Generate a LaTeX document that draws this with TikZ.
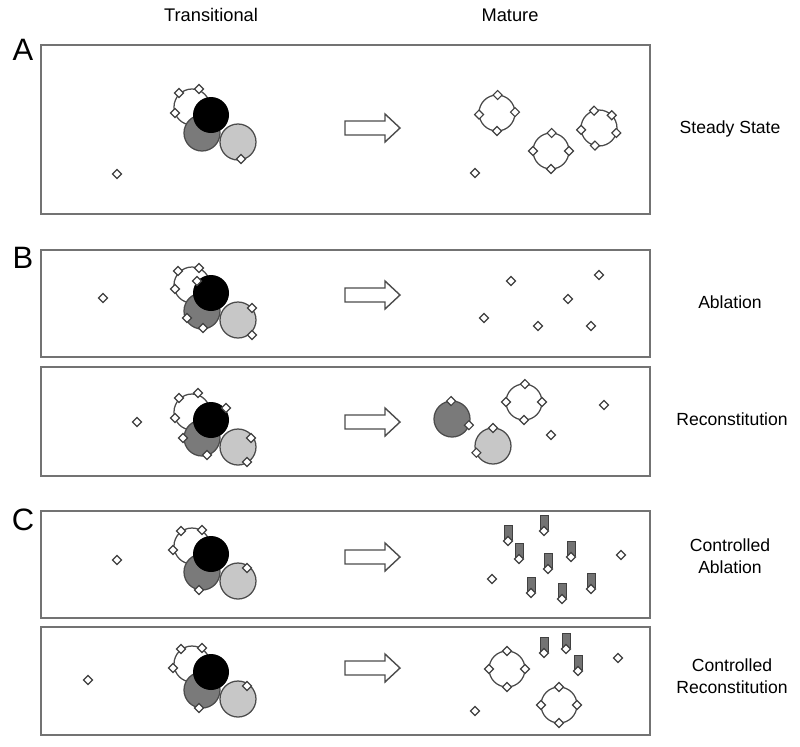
\documentclass[tikz,border=0pt]{standalone}
\usepackage{fontspec}
\setmainfont{Liberation Sans}
\usetikzlibrary{arrows.meta}

\tikzset{
  panel/.style={draw=black!55, line width=1.3pt},
  ring/.style={draw=black!70, line width=0.9pt, fill=white},
  diam/.style={draw=black!75, line width=0.8pt, fill=white},
  darkcell/.style={ring, fill=black!52},
  lightcell/.style={ring, fill=black!22},
  tagbar/.style={draw=black!75, fill=black!55, line width=0.7pt},
  flow/.style={draw=black!70, line width=1pt, fill=white},
  lbl/.style={font=\fontsize{12.5}{16}\selectfont, align=center},
  head/.style={font=\fontsize{13}{15}\selectfont},
  letter/.style={font=\fontsize{22}{24}\selectfont}
}

% small marker, ring with markers, blocked marker, big arrow
\newcommand\dia[1]{\draw[diam] #1 +(0,-4.5) -- +(4.5,0) -- +(0,4.5) -- +(-4.5,0) -- cycle;}
\newcommand\ring[2]{\draw[ring] (#1) circle (18);
  \foreach \a in {#2} {\dia{(#1) ++(\a:18)}}}
\newcommand\blocked[1]{\draw[tagbar] (#1) +(-4,-16) rectangle +(4,-2); \dia{(#1)}}
\newcommand\flow[1]{\draw[flow] (345,#1) +(0,-7) -- +(40,-7) -- +(40,-14) -- +(55,0)
  -- +(40,14) -- +(40,7) -- +(0,7) -- cycle;}
\newcommand\cluster[1]{%
  \draw[ring] (192,#1-8) circle (18);
  \draw[darkcell] (202,#1+18) circle (18);
  \fill (211,#1) circle (18);
  \draw[lightcell] (238,#1+27) circle (18);}

\begin{document}
\begin{tikzpicture}[x=0.025cm, y=0.025cm, yscale=-1]
  \useasboundingbox (0,0) rectangle (800,746);

  \node[head] (trans) at (211,15) {Transitional};
  \node[head] (mat) at (510,15) {Mature};

  % panels
  \draw[panel] (41,45) rectangle (650,214);
  \draw[panel] (41,250) rectangle (650,357);
  \draw[panel] (41,367) rectangle (650,476);
  \draw[panel] (41,511) rectangle (650,618);
  \draw[panel] (41,627) rectangle (650,735);
  \node[letter] (lA) at (23,50) {A};
  \node[letter] (lB) at (23,258) {B};
  \node[letter] (lC) at (23,520) {C};

  % A: steady state
  \cluster{115}
  \foreach \p in {(179,93),(199,89),(175,113),(241,159),(117,174)} {\dia{\p}}
  \flow{128}
  \ring{497,113}{-88,175,-3,90}
  \ring{551,151}{-88,180,0,90}
  \ring{599,128}{-106,-45,16,103,174}
  \dia{(475,173)}
  \node[lbl] (sA) at (730,129) {Steady State};

  % B: ablation
  \cluster{293}
  \foreach \p in {(178,271),(199,268),(197,281),(175,289),(187,318),(203,328),
    (252,308),(252,335),(103,298)} {\dia{\p}}
  \flow{295}
  \foreach \p in {(511,281),(599,275),(568,299),(484,318),(538,326),(591,326)} {\dia{\p}}
  \node[lbl] (sB) at (730,302) {Ablation};

  % B: reconstitution
  \cluster{420}
  \foreach \p in {(179,398),(198,393),(175,418),(226,408),(183,438),(207,455),
    (251,438),(247,462),(137,422)} {\dia{\p}}
  \flow{422}
  \draw[darkcell] (452,419) circle (18);
  \foreach \a in {-93,20} {\dia{(452,419) ++(\a:18)}}
  \draw[lightcell] (493,446) circle (18);
  \foreach \a in {-90,158} {\dia{(493,446) ++(\a:18)}}
  \ring{524,402}{-87,180,0,90}
  \dia{(551,435)} \dia{(604,405)}
  \node[lbl] (sR) at (732,419) {Reconstitution};

  % C: controlled ablation
  \cluster{554}
  \foreach \p in {(181,531),(202,530),(173,550),(247,568),(199,590),(117,560)} {\dia{\p}}
  \flow{557}
  \foreach \x/\y in {508/541,544/531,519/559,571/557,548/569,531/593,562/599,591/589}
    {\blocked{\x,\y}}
  \foreach \p in {(492,579),(621,555)} {\dia{\p}}
  \node[lbl] (sCA) at (730,556) {Controlled\\Ablation};

  % C: controlled reconstitution
  \cluster{672}
  \foreach \p in {(181,649),(202,648),(173,668),(247,686),(199,708),(88,680)} {\dia{\p}}
  \flow{668}
  \ring{507,669}{-90,180,0,90}
  \ring{559,705}{-90,180,0,90}
  \foreach \x/\y in {544/653,566/649,578/671} {\blocked{\x,\y}}
  \foreach \p in {(618,658),(475,711)} {\dia{\p}}
  \node[lbl] (sCR) at (732,676) {Controlled\\Reconstitution};
\end{tikzpicture}
\end{document}
